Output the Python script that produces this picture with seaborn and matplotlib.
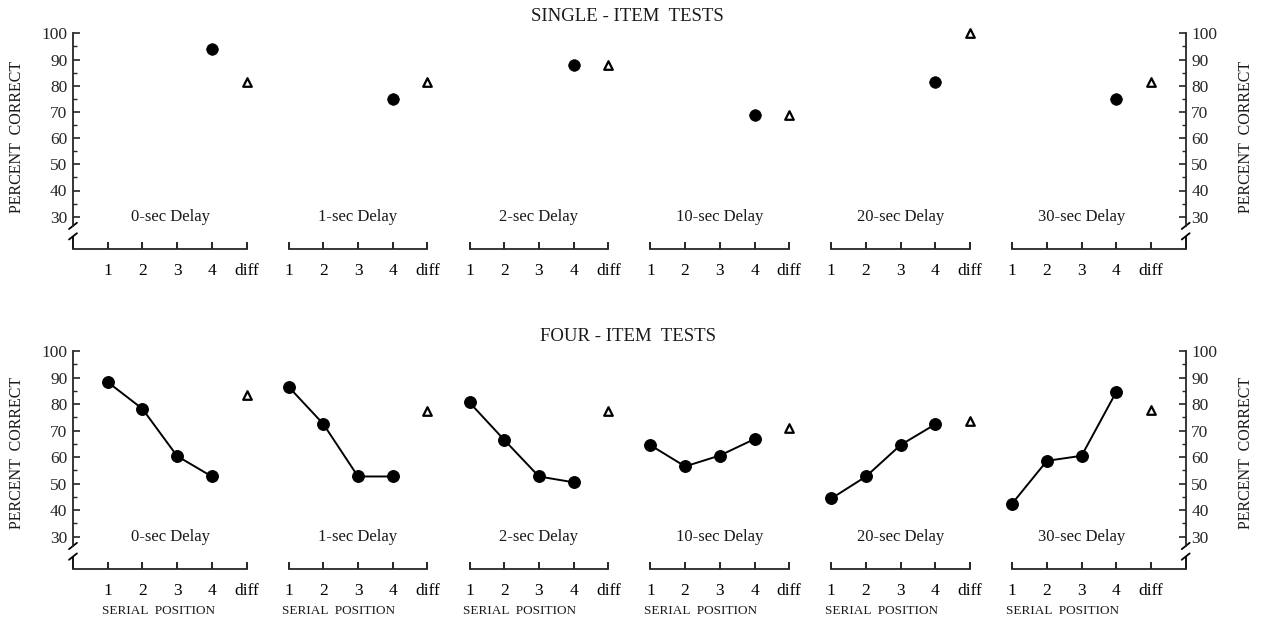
import matplotlib
matplotlib.use("Agg")
import matplotlib.pyplot as plt
import matplotlib.transforms as mtransforms
import seaborn as sns
import pandas as pd

# ---------------- data ----------------
delays = ['0-sec Delay', '1-sec Delay', '2-sec Delay', '10-sec Delay', '20-sec Delay', '30-sec Delay']
positions = [1, 2, 3, 4]
diff_pos = 5
x_tick_labels = ['1', '2', '3', '4', 'diff']
y_ticks = [30, 40, 50, 60, 70, 80, 90, 100]

# single-item tests: item at serial position 4, and "diff"
single_pos4 = [94, 75, 88, 69, 81.5, 75]
single_diff = [81.5, 81.5, 88, 69, 100, 81.5]

# four-item tests: serial positions 1-4, and "diff"
four_0s = [88.3, 78.2, 60.4, 52.7]
four_1s = [86.5, 72.5, 52.7, 52.7]
four_2s = [80.6, 66.5, 52.7, 50.5]
four_10s = [64.5, 56.5, 60.6, 66.8]
four_20s = [44.4, 52.7, 64.6, 72.4]
four_30s = [42.5, 58.6, 60.5, 84.6]
four_diff = [83.5, 77.2, 77.2, 70.9, 73.5, 77.9]
four_series = [four_0s, four_1s, four_2s, four_10s, four_20s, four_30s]

# ---------------- style ----------------
sns.set_style("ticks")
plt.rcParams['font.family'] = ['Liberation Serif', 'DejaVu Serif']
plt.rcParams['axes.linewidth'] = 1.3

W, H = 1264, 619
fig = plt.figure(figsize=(W / 100, H / 100), dpi=100)

UNIT = 34.7       # px per x unit
PANEL = 180.9     # px between panels
X0 = 73.0         # px of x=0 for first panel
YMIN, YMAX = 17.8, 101
TXT = '#1a1a1a'
TICK_FS = 12.5

rows = [
    dict(y100=33.3, y30=216.7),
    dict(y100=351.0, y30=536.7),
]


def make_ax(row, k):
    r = rows[row]
    ppu = (r['y30'] - r['y100']) / 70.0
    top_px = r['y100'] - (YMAX - 100) * ppu
    bot_px = r['y30'] + (30 - YMIN) * ppu
    xmax = 6.0 if k == 5 else 5.2
    left_px = X0 + PANEL * k
    ax = fig.add_axes([left_px / W, 1 - bot_px / H, xmax * UNIT / W, (bot_px - top_px) / H])
    ax.set_xlim(0, xmax)
    ax.set_ylim(YMIN, YMAX)
    ax.patch.set_alpha(0)
    for s in ['top', 'right', 'left']:
        ax.spines[s].set_visible(False)
    ax.spines['bottom'].set_bounds(0 if k == 0 else 1, 6 if k == 5 else 5)
    ax.set_xticks(positions + [diff_pos])
    ax.set_xticklabels(x_tick_labels)
    ax.tick_params(axis='x', direction='in', length=5, width=1.2, pad=10,
                   labelsize=TICK_FS, colors='black')
    ax.set_xlabel('')
    ax.set_ylabel('')
    if k in (0, 5):
        side = 'left' if k == 0 else 'right'
        xs = 0 if k == 0 else xmax
        ax.spines[side].set_visible(True)
        ax.spines[side].set_bounds(26.5, 100)
        if k == 5:
            ax.yaxis.tick_right()
        ax.set_yticks(y_ticks)
        ax.set_yticks([35, 45, 55, 65, 75, 85, 95], minor=True)
        ax.tick_params(axis='y', which='major', direction='in', length=5, width=1.2,
                       labelsize=TICK_FS, pad=4)
        ax.tick_params(axis='y', which='minor', direction='in', length=3, width=1.0)
        # lower spine segment and break marks
        ax.plot([xs, xs], [YMIN, 22.5], color='black', lw=1.3, clip_on=False,
                solid_capstyle='butt')
        trans = mtransforms.blended_transform_factory(ax.transAxes, ax.transData)
        xa = 0 if k == 0 else 1
        dx = 0.022 if k == 0 else 0.019
        for yb in (26.5, 22.5):
            ax.plot([xa - dx, xa + dx], [yb - 1.2, yb + 1.2], color='black', lw=1.3,
                    transform=trans, clip_on=False)
    else:
        ax.set_yticks([])
    return ax


for k in range(6):
    label_x = 2.8 if k == 0 else 3
    # single-item row
    ax = make_ax(0, k)
    df1 = pd.DataFrame({'pos': [4], 'pc': [single_pos4[k]]})
    sns.scatterplot(data=df1, x='pos', y='pc', ax=ax, color='black', s=70,
                    edgecolor='black', linewidth=0.5, clip_on=False, legend=False)
    dfd = pd.DataFrame({'pos': [diff_pos], 'pc': [single_diff[k]]})
    sns.scatterplot(data=dfd, x='pos', y='pc', ax=ax, marker='^', s=38, color='white',
                    edgecolor='black', linewidth=1.6, clip_on=False, legend=False)
    ax.text(label_x, 30, delays[k], ha='center', va='center', fontsize=12, color=TXT)
    ax.set_xlabel('')
    ax.set_ylabel('')

    # four-item row
    ax = make_ax(1, k)
    df4 = pd.DataFrame({'pos': positions, 'pc': four_series[k]})
    sns.lineplot(data=df4, x='pos', y='pc', ax=ax, color='black', linewidth=1.4,
                 marker='o', markersize=8.5, markeredgecolor='black', clip_on=False)
    dfd = pd.DataFrame({'pos': [diff_pos], 'pc': [four_diff[k]]})
    sns.scatterplot(data=dfd, x='pos', y='pc', ax=ax, marker='^', s=38, color='white',
                    edgecolor='black', linewidth=1.6, clip_on=False, legend=False)
    ax.text(label_x, 30, delays[k], ha='center', va='center', fontsize=12, color=TXT)
    ax.text(2.45, -0.19, 'SERIAL  POSITION',
            transform=mtransforms.blended_transform_factory(ax.transData, ax.transAxes),
            ha='center', va='center', fontsize=9.5, color=TXT)
    ax.set_xlabel('')
    ax.set_ylabel('')

fig.text(627.5 / W, 1 - 16.5 / H, 'SINGLE - ITEM  TESTS', ha='center', va='center',
         fontsize=13.5, color=TXT)
fig.text(627.5 / W, 1 - 336.5 / H, 'FOUR - ITEM  TESTS', ha='center', va='center',
         fontsize=13.5, color=TXT)
for yc in (137, 452.5):
    fig.text(17.5 / W, 1 - yc / H, 'PERCENT  CORRECT', rotation=90, ha='center',
             va='center', fontsize=11.5, color=TXT)
    fig.text(1246.5 / W, 1 - yc / H, 'PERCENT  CORRECT', rotation=90, ha='center',
             va='center', fontsize=11.5, color=TXT)

fig.savefig('out.png', dpi=100)
